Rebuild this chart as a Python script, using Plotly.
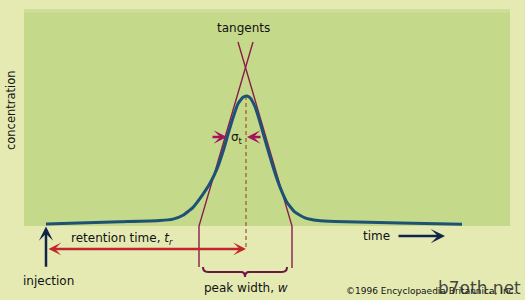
import plotly.graph_objects as go

# ---- data (time in arbitrary units, concentration normalised to peak = 1) ----
time_pts = [0.0, 3.7, 5.7, 6.35, 6.85, 7.35, 7.8, 8.2, 8.55, 8.85, 9.1, 9.35, 9.6, 9.85,
            10.05, 10.2, 10.45, 10.7, 10.95, 11.2, 11.45, 11.7, 12.05, 12.45, 12.95,
            13.6, 14.45, 17.7, 20.8]
conc_pts = [0.0, 0.017, 0.027, 0.038, 0.068, 0.13, 0.222, 0.318, 0.43, 0.566, 0.700,
            0.830, 0.940, 0.990, 1.0, 0.986, 0.916, 0.795, 0.658, 0.524, 0.398, 0.288,
            0.168, 0.092, 0.048, 0.027, 0.019, 0.008, -0.002]

retention_time = 10.0
peak_conc = 1.0
inj_time = 0.0

# tangent lines: [bottom of extension, baseline, top]
tangent_left_t = [7.65, 7.65, 10.35]
tangent_left_c = [-0.336, -0.016, 1.422]
tangent_right_t = [12.3, 12.3, 9.6]
tangent_right_c = [-0.344, -0.016, 1.422]

width_start = 7.85
width_end = 12.05

labels = {
    "tangents": "tangents",
    "conc": "concentration",
    "sigma": "σ<sub>t</sub>",
    "ret": "retention time, <i>t<sub>r</sub></i>",
    "inj": "injection",
    "width": "peak width, <i>w</i>",
    "time": "time",
    "copy": "©1996 Encyclopaedia Britannica, Inc.",
    "wm": "b7oth.net",
}

BG = "#e5eab3"
PLOT = "#c5d98b"
CURVE = "#1d5275"
TAN = "#8a1c4c"
MAG = "#a3145c"
RED = "#c0262c"
NAVY = "#13244a"
DASH = "#a0522d"
BRACE = "#6b1744"
FONT = "DejaVu Sans"

fig = go.Figure()

# tangent lines
fig.add_trace(go.Scatter(x=tangent_left_t, y=tangent_left_c, mode="lines",
                         line=dict(color=TAN, width=1.4), hoverinfo="skip"))
fig.add_trace(go.Scatter(x=tangent_right_t, y=tangent_right_c, mode="lines",
                         line=dict(color=TAN, width=1.4), hoverinfo="skip"))

# dashed vertical at retention time
fig.add_trace(go.Scatter(x=[retention_time, retention_time], y=[peak_conc, -0.195],
                         mode="lines", line=dict(color=DASH, width=1.2, dash="4px,3px"),
                         hoverinfo="skip"))

# chromatogram curve
fig.add_trace(go.Scatter(x=time_pts, y=conc_pts, mode="lines",
                         line=dict(color=CURVE, width=3, shape="spline", smoothing=0.45),
                         hoverinfo="skip"))

# background panels
fig.add_shape(type="rect", xref="paper", yref="paper", x0=24/525, x1=510/525,
              y0=1-226/300, y1=1-9/300, fillcolor=PLOT, line_width=0, layer="below")
fig.add_shape(type="rect", xref="paper", yref="paper", x0=24/525, x1=510/525,
              y0=1-12.5/300, y1=1-9/300, fillcolor="#cddf97", line_width=0, layer="below")

# brace under peak width
y_hook = -0.336
y_line = -0.375
y_cusp = -0.414
mid = (width_start + width_end) / 2
path = (f"M {width_start},{y_hook} Q {width_start},{y_line} {width_start+0.25},{y_line} "
        f"L {mid-0.2},{y_line} Q {mid},{y_line} {mid},{y_cusp} "
        f"Q {mid},{y_line} {mid+0.2},{y_line} "
        f"L {width_end-0.25},{y_line} Q {width_end},{y_line} {width_end},{y_hook}")
fig.add_shape(type="path", path=path, line=dict(color=BRACE, width=2))

ann = []
# retention time double arrow
ann.append(dict(x=retention_time, y=-0.195, ax=inj_time + 0.05, ay=-0.195, xref="x", yref="y",
                axref="x", ayref="y", text="", showarrow=True, arrowside="end+start",
                arrowhead=3, startarrowhead=3, arrowsize=0.85, startarrowsize=0.85,
                arrowwidth=2.5, arrowcolor=RED))
# injection arrow
ann.append(dict(x=inj_time, y=-0.02, ax=inj_time, ay=-0.345, xref="x", yref="y",
                axref="x", ayref="y", text="", showarrow=True, arrowhead=3,
                arrowsize=0.95, arrowwidth=2.5, arrowcolor=NAVY))
# time arrow
ann.append(dict(x=19.95, y=-0.094, ax=17.55, ay=-0.094, xref="x", yref="y",
                axref="x", ayref="y", text="", showarrow=True, arrowhead=3,
                arrowsize=0.95, arrowwidth=2.5, arrowcolor=NAVY))
# sigma arrows
ann.append(dict(x=retention_time - 0.95, y=0.68, ax=retention_time - 1.75, ay=0.68,
                xref="x", yref="y", axref="x", ayref="y", text="", showarrow=True,
                arrowhead=3, arrowsize=0.9, arrowwidth=2.5, arrowcolor=MAG))
ann.append(dict(x=retention_time + 0.05, y=0.68, ax=retention_time + 0.8, ay=0.68,
                xref="x", yref="y", axref="x", ayref="y", text="", showarrow=True,
                arrowhead=3, arrowsize=0.9, arrowwidth=2.5, arrowcolor=MAG))

def txt(x, y, s, size=12, angle=0, xanchor="center", color="#111", xref="x", yref="y"):
    ann.append(dict(x=x, y=y, text=s, showarrow=False, xref=xref, yref=yref,
                    xanchor=xanchor, yanchor="middle", textangle=angle,
                    font=dict(family=FONT, size=size, color=color)))

txt(9.85, 1.53, labels["tangents"], 12)
txt(-1.75, 0.89, labels["conc"], 11.5, angle=-90)
txt(9.55, 0.67, labels["sigma"], 12)
txt(3.8, -0.117, labels["ret"], 12)
txt(0.1, -0.445, labels["inj"], 12)
txt(10.0, -0.50, labels["width"], 12)
txt(16.5, -0.094, labels["time"], 12)
txt(23.6, -0.525, labels["copy"], 9, xanchor="right")
txt(23.85, -0.5, labels["wm"], 17, xanchor="right", color="rgba(40,40,40,0.85)")

fig.update_layout(
    width=525, height=300, margin=dict(l=0, r=0, t=0, b=0),
    paper_bgcolor=BG, plot_bgcolor="rgba(0,0,0,0)", showlegend=False,
    xaxis=dict(range=[-2.3, 23.95], visible=False, fixedrange=True),
    yaxis=dict(range=[-0.594, 1.75], visible=False, fixedrange=True),
    annotations=ann,
)

fig.write_html("out.html")
